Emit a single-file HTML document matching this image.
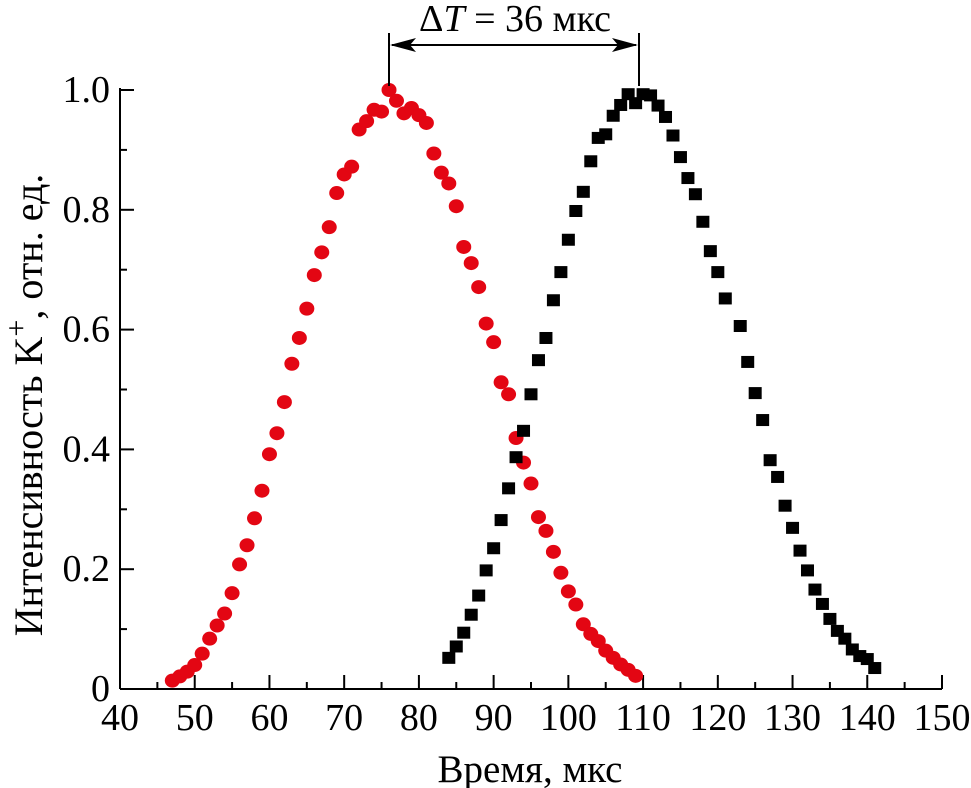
<!DOCTYPE html>
<html><head><meta charset="utf-8"><style>
html,body{margin:0;padding:0;background:#fff;}
svg{display:block;font-family:"Liberation Serif",serif;}
</style></head><body>
<svg id="chart" width="971" height="788" viewBox="0 0 971 788" xmlns="http://www.w3.org/2000/svg">
<g id="axes"></g>
<g id="marks"></g>
<g id="annot">
  <line x1="389" y1="33" x2="389" y2="86" stroke="#000" stroke-width="2"/>
  <line x1="639" y1="33" x2="639" y2="86" stroke="#000" stroke-width="2"/>
  <line x1="392" y1="45" x2="636" y2="45" stroke="#000" stroke-width="2"/>
  <polygon points="390,45 416,38 410,45 416,52" fill="#000"/>
  <polygon points="638,45 612,38 618,45 612,52" fill="#000"/>
  <text x="515" y="31" font-size="38" text-anchor="middle">Δ<tspan font-style="italic">T</tspan> = 36 мкс</text>
</g>
<text x="530" y="782" font-size="39" text-anchor="middle">Время, мкс</text>
<text transform="translate(42,405) rotate(-90)" font-size="40" text-anchor="middle">Интенсивность K<tspan dy="-16" font-size="30">+</tspan><tspan dy="16">, отн. ед.</tspan></text>
</svg>
<script>
const redX = [47,48,49,50,51,52,53,54,55,56,57,58,59,60,61,62,63,64,65,66,67,68,69,70,71,72,73,74,75,76,77,78,79,80,81,82,83,84,85,86,87,88,89,90,91,92,93,94,95,96,97,98,99,100,101,102,103,104,105,106,107,108,109];
const redY = [0.014,0.021,0.029,0.040,0.059,0.084,0.106,0.126,0.160,0.208,0.240,0.285,0.331,0.392,0.427,0.479,0.543,0.586,0.635,0.691,0.729,0.771,0.828,0.859,0.872,0.934,0.948,0.967,0.964,1.0,0.982,0.961,0.970,0.958,0.945,0.894,0.862,0.844,0.806,0.738,0.711,0.671,0.610,0.579,0.512,0.492,0.419,0.378,0.343,0.287,0.264,0.229,0.194,0.163,0.141,0.108,0.092,0.080,0.064,0.052,0.041,0.032,0.022];
const blackX = [84,85,86,87,88,89,90,91,92,93,94,95,96,97,98,99,100,101,102,103,104,105,106,107,108,109,110,111,112,113,114,115,116,117,118,119,120,121,123,124,125,126,127,128,129,130,131,132,133,134,135,136,137,138,139,140,141];
const blackY = [0.052,0.071,0.094,0.124,0.156,0.198,0.235,0.282,0.335,0.387,0.431,0.492,0.549,0.586,0.649,0.696,0.750,0.798,0.830,0.881,0.920,0.926,0.957,0.975,0.993,0.978,0.993,0.991,0.974,0.955,0.924,0.888,0.853,0.826,0.780,0.731,0.696,0.652,0.606,0.546,0.494,0.449,0.382,0.354,0.306,0.269,0.231,0.198,0.166,0.142,0.117,0.097,0.084,0.066,0.055,0.050,0.035];
const xTicks = [40,50,60,70,80,90,100,110,120,130,140,150];
const yTicks = [0,0.2,0.4,0.6,0.8,1.0];
const yTickLabels = ["0","0.2","0.4","0.6","0.8","1.0"];

const NS="http://www.w3.org/2000/svg";
const X0=120,X1=942,Y0=689,Y1=90;
const sx=v=>X0+(v-40)/110*(X1-X0);
const sy=v=>Y0-v*(Y0-Y1);
function mk(tag,attrs,parent){const e=document.createElementNS(NS,tag);for(const k in attrs)e.setAttribute(k,attrs[k]);parent.appendChild(e);return e;}
const axes=document.getElementById('axes'), marks=document.getElementById('marks');
let a=mk('line',{x1:X0,y1:Y0,x2:X1,y2:Y0,stroke:'#000','stroke-width':2},axes);


a=mk('line',{x1:X0,y1:Y0,x2:X0,y2:Y1-2,stroke:'#000','stroke-width':2},axes);


for(let v=40;v<=150;v+=5){const major=v%10===0;mk('line',{x1:sx(v),y1:Y0,x2:sx(v),y2:Y0-(major?14:7),stroke:'#000','stroke-width':2},axes);}
xTicks.forEach(v=>{const t=mk('text',{x:sx(v),y:Y0+41,'font-size':38,'text-anchor':'middle'},axes);t.textContent=v;

});
for(let i=0;i<=10;i++){const v=i/10,major=i%2===0;mk('line',{x1:X0,y1:sy(v),x2:X0+(major?14:7),y2:sy(v),stroke:'#000','stroke-width':2},axes);}
yTicks.forEach((v,i)=>{const t=mk('text',{x:X0-10,y:sy(v)+12,'font-size':38,'text-anchor':'end'},axes);t.textContent=yTickLabels[i];

});
redX.forEach((x,i)=>{const c=mk('ellipse',{cx:sx(x),cy:sy(redY[i]),rx:7.5,ry:7,fill:'#e30613'},marks);

});
blackX.forEach((x,i)=>{const r=mk('rect',{x:sx(x)-6.5,y:sy(blackY[i])-6,width:13,height:12,fill:'#000'},marks);

});
</script>
</body></html>
